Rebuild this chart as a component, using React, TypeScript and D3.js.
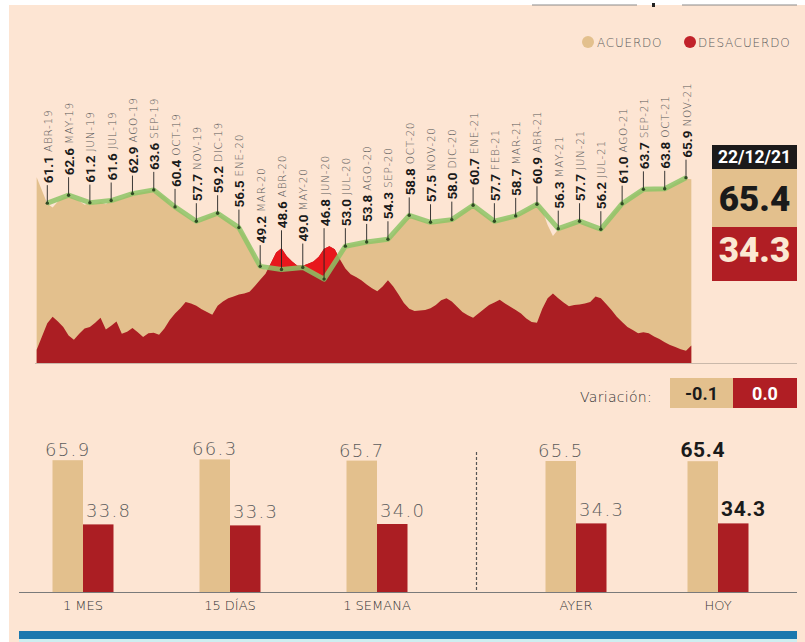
import * as d3 from 'd3';

// Etiquetas mensuales (no hay FEB-20 en el original)
const months = [
  'ABR-19', 'MAY-19', 'JUN-19', 'JUL-19', 'AGO-19', 'SEP-19', 'OCT-19', 'NOV-19', 'DIC-19', 'ENE-20',
  'MAR-20', 'ABR-20', 'MAY-20', 'JUN-20', 'JUL-20', 'AGO-20', 'SEP-20', 'OCT-20', 'NOV-20', 'DIC-20',
  'ENE-21', 'FEB-21', 'MAR-21', 'ABR-21', 'MAY-21', 'JUN-21', 'JUL-21', 'AGO-21', 'SEP-21', 'OCT-21', 'NOV-21',
];
const monthlyAcuerdo = [
  61.1, 62.6, 61.2, 61.6, 62.9, 63.6, 60.4, 57.7, 59.2, 56.5,
  49.2, 48.6, 49.0, 46.8, 53.0, 53.8, 54.3, 58.8, 57.5, 58.0,
  60.7, 57.7, 58.7, 60.9, 56.3, 57.7, 56.2, 61.0, 63.7, 63.8, 65.9,
];

// Seguimiento diario, leido cada cuarto de mes desde media posicion antes de ABR-19
const dailyStart = -0.5;
const dailyStep = 0.25;
const dailyAcuerdo = [
  66.0, 63.5,
  61.0, 60.3, 61.4, 62.2,
  62.6, 62.0, 61.5, 60.8,
  61.2, 61.0, 61.3, 60.9,
  61.6, 61.8, 62.0, 62.5,
  62.9, 63.0, 63.2, 63.4,
  63.6, 63.0, 62.3, 61.2,
  60.4, 59.6, 58.8, 58.0,
  57.4, 57.9, 58.5, 58.9,
  59.2, 58.6, 57.8, 57.0,
  56.5, 55.2, 53.6, 51.2,
  49.0, 48.6, 48.7, 48.5,
  48.4, 48.5, 48.8, 48.9,
  49.0, 48.7, 48.1, 47.4,
  46.8, 48.0, 50.0, 52.0,
  53.2, 53.3, 53.5, 53.6,
  53.7, 53.9, 54.1, 54.2,
  54.2, 55.3, 56.6, 57.8,
  58.6, 58.3, 57.9, 57.6,
  57.4, 57.4, 57.7, 57.9,
  58.0, 58.7, 59.5, 60.2,
  60.6, 59.8, 59.0, 58.2,
  57.6, 57.9, 58.2, 58.5,
  58.7, 59.2, 59.9, 60.5,
  60.9, 59.8, 57.0, 54.9,
  56.2, 56.6, 57.0, 57.4,
  57.6, 57.2, 56.8, 56.4,
  56.2, 57.5, 58.9, 60.1,
  61.0, 61.8, 62.6, 63.2,
  63.7, 63.7, 63.7, 63.8,
  63.8, 64.3, 64.9, 65.4,
  65.7, 65.6,
];
const dailyDesacuerdo = [
  33.5, 36.0,
  38.5, 39.7, 38.8, 37.8,
  36.2, 35.4, 36.5, 37.5,
  37.8, 38.6, 39.5, 37.3,
  38.0, 38.8, 36.5, 36.9,
  37.6, 36.8, 35.9, 36.6,
  36.7, 36.3, 37.5, 39.1,
  40.3, 41.3, 42.5, 42.2,
  41.8, 41.1, 40.6, 40.1,
  41.8, 42.6, 43.2, 43.5,
  43.9, 44.1, 44.4, 45.5,
  46.7, 47.8, 49.8, 51.8,
  52.6, 51.1, 50.1, 49.3,
  49.3, 49.7, 50.1, 51.0,
  52.5, 53.0, 52.4, 50.5,
  48.8, 47.7, 47.2, 46.6,
  45.8, 45.1, 44.5, 45.4,
  46.6, 45.4, 43.9, 42.3,
  41.2, 40.8, 40.9, 41.0,
  41.3, 41.9, 42.8, 43.2,
  42.6, 41.6, 40.6, 40.0,
  39.5, 40.3, 41.1, 41.9,
  42.4, 42.9, 42.2, 41.6,
  41.0, 40.3, 39.4, 38.7,
  38.6, 41.2, 43.2, 44.1,
  43.2, 42.4, 41.7, 41.9,
  42.0, 42.2, 42.5, 43.5,
  43.2, 42.1, 41.0, 39.7,
  38.7, 37.8, 37.2, 36.6,
  36.8, 36.6, 36.0, 35.5,
  34.9, 34.4, 34.0, 33.6,
  33.3, 34.3,
];

// Ultimo dato
const fecha = '22/12/21';
const hoyAcuerdo = 65.4;
const hoyDesacuerdo = 34.3;
const variacion = [-0.1, 0.0];

// Comparativo
const barLeft = ['1 MES', '15 DÍAS', '1 SEMANA'];
const barRight = ['AYER', 'HOY'];
const barAcuerdo = [65.9, 66.3, 65.7, 65.5, 65.4];
const barDesacuerdo = [33.8, 33.3, 34.0, 34.3, 34.3];

const C = {
  bg: '#fde5d3',
  tan: '#e3c08d',
  red: '#ab1e23',
  brightRed: '#e8171c',
  green: '#8dc466',
  dot: '#2e4a22',
  ink: '#1a1a1a',
  gray: '#5c5c5c',
};

const light = "'DejaVu Sans', sans-serif";
const bold = "Roboto, 'DejaVu Sans', sans-serif";

// guion corto para negativos, como en el original
const fmt = d3.formatLocale({ decimal: '.', thousands: ',', grouping: [3], currency: ['$', ''], minus: '-' }).format('.1f');

export default function App() {
  const width = 805;
  const height = 642;

  const xScale = d3.scaleLinear().domain([0, 30]).range([47.3, 686]);
  const yScale = d3.scaleLinear().domain([31, 70]).range([363, 155.9]);
  const top = yScale(70);
  const base = yScale(31);

  const aPts = dailyAcuerdo.map((v, i) => ({ t: dailyStart + i * dailyStep, v }));
  const dPts = dailyDesacuerdo.map((v, i) => ({ t: dailyStart + i * dailyStep, v }));

  const area = d3.area<{ t: number; v: number }>()
    .x((d) => xScale(d.t))
    .y0(base)
    .y1((d) => yScale(d.v));
  const aboveTan = d3.area<{ t: number; v: number }>()
    .x((d) => xScale(d.t))
    .y0(top)
    .y1((d) => yScale(d.v));

  const monthly = monthlyAcuerdo.map((v, i) => ({ i, v, label: months[i] }));
  const line = d3.line<{ i: number; v: number }>()
    .x((d) => xScale(d.i))
    .y((d) => yScale(d.v));

  // base de cada etiqueta: por encima del punto o del pico de desacuerdo cercano
  const labelBase = (i: number, v: number) => {
    const near = dPts.filter((p) => Math.abs(p.t - i) <= 0.5).map((p) => p.v);
    return yScale(Math.max(v, d3.max(near) ?? v)) - 20;
  };

  // barras
  const barY = d3.scaleLinear().domain([0, 70]).range([592, 452]);
  const leftX = d3.scalePoint<string>().domain(barLeft).range([83, 377]);
  const rightX = d3.scalePoint<string>().domain(barRight).range([576, 718]);
  const barW = 30.5;
  const groups = [...barLeft, ...barRight].map((c, k) => ({
    c,
    cx: (k < barLeft.length ? leftX(c) : rightX(c)) as number,
    a: barAcuerdo[k],
    d: barDesacuerdo[k],
    today: c === 'HOY',
  }));
  const divX = ((leftX('1 SEMANA') as number) + barW + (rightX('AYER') as number) - barW) / 2;

  return (
    <svg width={width} height={height} style={{ position: 'absolute', left: 0, top: 0, display: 'block' }}>
      <rect width={width} height={height} fill="#fff" />
      <rect x={9} y={5} width={width - 9} height={height - 5} fill={C.bg} />

      {/* restos de la cabecera recortada */}
      <line x1={532} x2={637} y1={5} y2={5} stroke="#8a8a8a" />
      <line x1={682} x2={797} y1={5} y2={5} stroke="#8a8a8a" />
      <rect x={652} y={3} width={3} height={4} fill="#222" />

      {/* leyenda */}
      <circle cx={588} cy={42} r={6} fill={C.tan} />
      <text x={597} y={47} fontFamily={light} fontWeight={300} fontSize={12} letterSpacing={0.8} fill={C.gray}>ACUERDO</text>
      <circle cx={690} cy={42} r={6} fill="#c1222a" />
      <text x={698} y={47} fontFamily={light} fontWeight={300} fontSize={12} letterSpacing={0.8} fill={C.gray}>DESACUERDO</text>

      {/* areas */}
      <defs>
        <clipPath id="sobre-acuerdo">
          <path d={aboveTan(aPts) ?? ''} />
        </clipPath>
      </defs>
      <path d={area(aPts) ?? ''} fill={C.tan} />
      <path d={area(dPts) ?? ''} fill={C.red} />
      <path d={area(dPts) ?? ''} fill={C.brightRed} clipPath="url(#sobre-acuerdo)" />
      <line x1={35} x2={797} y1={base + 0.5} y2={base + 0.5} stroke="#c9b8aa" />

      {/* linea mensual */}
      <path d={line(monthly) ?? ''} fill="none" stroke={C.green} strokeWidth={5} strokeOpacity={0.85} strokeLinejoin="round" />
      {monthly.map((m) => {
        const x = xScale(m.i);
        const y = yScale(m.v);
        const yl = labelBase(m.i, m.v);
        return (
          <g key={m.label}>
            <line x1={x} x2={x} y1={y} y2={yl + 2} stroke="#222" strokeWidth={0.9} />
            <circle cx={x} cy={y} r={1.7} fill={C.dot} />
            <text transform={`translate(${x + 0.5},${yl}) rotate(-90)`} dominantBaseline="central">
              <tspan fontFamily={bold} fontWeight={700} fontSize={13.5} fill={C.ink}>{fmt(m.v)}</tspan>
              <tspan dx={4} fontFamily={light} fontWeight={300} fontSize={10.5} letterSpacing={0.7} fill="#5a5a5a">{m.label}</tspan>
            </text>
          </g>
        );
      })}

      {/* cifras del dia */}
      <rect x={712} y={145} width={85} height={24} fill="#1c1a1a" />
      <text x={754.5} y={163} textAnchor="middle" fontFamily={bold} fontWeight={700} fontSize={17.5} fill="#fff">{fecha}</text>
      <rect x={712} y={169} width={85} height={58} fill={C.tan} />
      <text x={754.5} y={211} textAnchor="middle" fontFamily={bold} fontWeight={900} fontSize={35} fill={C.ink}>{fmt(hoyAcuerdo)}</text>
      <rect x={712} y={227} width={85} height={54} fill="#b01e24" />
      <text x={754.5} y={262} textAnchor="middle" fontFamily={bold} fontWeight={900} fontSize={35} fill="#fbe8d2">{fmt(hoyDesacuerdo)}</text>

      {/* variacion */}
      <text x={580} y={402} fontFamily={light} fontWeight={300} fontSize={14} letterSpacing={0.3} fill="#333">Variación:</text>
      <rect x={670} y={378} width={63} height={30} fill={C.tan} />
      <text x={701.5} y={400} textAnchor="middle" fontFamily={bold} fontWeight={700} fontSize={18} fill={C.ink}>{fmt(variacion[0])}</text>
      <rect x={733} y={378} width={64} height={30} fill="#b01e24" />
      <text x={765} y={400} textAnchor="middle" fontFamily={bold} fontWeight={700} fontSize={18} fill="#fff">{fmt(variacion[1])}</text>

      {/* barras comparativas */}
      {groups.map((g) => (
        <g key={g.c}>
          <rect x={g.cx - barW} y={barY(g.a)} width={barW} height={barY(0) - barY(g.a)} fill={C.tan} />
          <rect x={g.cx} y={barY(g.d)} width={barW} height={barY(0) - barY(g.d)} fill={C.red} />
          <text x={g.cx - barW / 2} y={barY(g.a) - 4} textAnchor="middle"
            fontFamily={g.today ? bold : light} fontWeight={g.today ? 700 : 300}
            fontSize={g.today ? 21 : 18} letterSpacing={g.today ? 0.6 : 1.3} fill={g.today ? C.ink : C.gray}>{fmt(g.a)}</text>
          <text x={g.cx + 3} y={barY(g.d) - 7}
            fontFamily={g.today ? bold : light} fontWeight={g.today ? 700 : 300}
            fontSize={g.today ? 21 : 18} letterSpacing={g.today ? 0.6 : 1.3} fill={g.today ? C.ink : C.gray}>{fmt(g.d)}</text>
          <text x={g.cx} y={610} textAnchor="middle" fontFamily={light} fontWeight={300} fontSize={13} fill="#333">{g.c}</text>
        </g>
      ))}
      <line x1={divX} x2={divX} y1={barY(70)} y2={barY(0)} stroke="#555" strokeWidth={1.2} strokeDasharray="3,2" />
      <line x1={19} x2={797} y1={barY(0) + 0.5} y2={barY(0) + 0.5} stroke="#7a7a7a" />

      {/* franja inferior */}
      <rect x={19} y={631} width={778} height={8} fill="#1b78ae" />
      <rect x={19} y={639} width={778} height={3} fill="#cdeef0" />
    </svg>
  );
}
